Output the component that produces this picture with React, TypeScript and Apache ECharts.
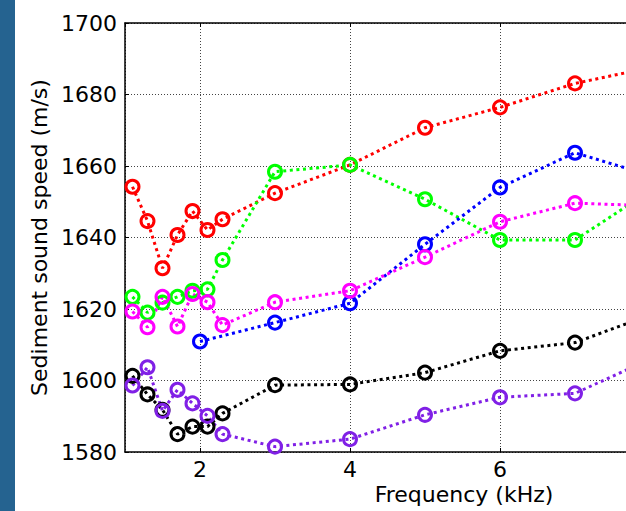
import React, { useEffect, useRef } from "react";
import * as echarts from "echarts";

const freqAll = [1.1, 1.3, 1.5, 1.7, 1.9, 2.1, 2.3, 3, 4, 5, 6, 7, 8];
const freqBlue = [2, 3, 4, 5, 6, 7, 8];

const redSpeed = [1654.2, 1644.6, 1631.4, 1640.7, 1647.4, 1642.1, 1645.1, 1652.4, 1660.3, 1670.7, 1676.4, 1683.1, 1687.5];
const greenSpeed = [1623.4, 1619.0, 1621.8, 1623.4, 1625.1, 1625.5, 1633.7, 1658.4, 1660.3, 1650.7, 1639.3, 1639.3, 1653.0];
const blueSpeed = [1610.9, 1616.2, 1621.6, 1638.1, 1654.0, 1663.7, 1657.4];
const magentaSpeed = [1619.3, 1614.9, 1623.4, 1615.1, 1624.2, 1621.9, 1615.5, 1621.9, 1625.1, 1634.5, 1644.4, 1649.6, 1648.9];
const blackSpeed = [1601.3, 1596.1, 1591.8, 1585.0, 1587.1, 1587.1, 1590.8, 1598.7, 1598.9, 1602.2, 1608.3, 1610.6, 1618.3];
const purpleSpeed = [1598.6, 1603.7, 1591.5, 1597.4, 1593.6, 1590.1, 1585.0, 1581.5, 1583.6, 1590.4, 1595.3, 1596.4, 1606.0];

const yTickMin = 1580;
const yTickMax = 1700;
const yTickStep = 20;

const FONT = "DejaVu Sans";

function mkSeries(name: string, xs: number[], ys: number[], color: string) {
  return {
    name,
    type: "line",
    data: xs.map((x, i) => [x, ys[i]]),
    symbol: "circle",
    symbolSize: 13,
    itemStyle: { color: "transparent", borderColor: color, borderWidth: 3 },
    lineStyle: { color, width: 3, type: [3, 3.6], cap: "butt" },
    clip: true,
  };
}

export default function App() {
  const ref = useRef<HTMLDivElement>(null);
  useEffect(() => {
    const chart = echarts.init(ref.current!, null, { renderer: "svg" });
    chart.setOption({
      animation: false,
      backgroundColor: "#fff",
      grid: { left: 125, top: 23, right: 0, bottom: 59, show: false },
      xAxis: [
        {
          type: "value",
          min: 1,
          max: 8,
          splitNumber: 3,
          position: "bottom",
          axisLine: { show: true, onZero: false, lineStyle: { color: "#000", width: 1.5 } },
          axisTick: { show: true, inside: true, length: 4, lineStyle: { color: "#000" } },
          axisLabel: {
            showMinLabel: false,
            showMaxLabel: false,
            color: "#000",
            fontSize: 22,
            fontFamily: FONT,
            margin: 6,
          },
          splitLine: { show: true, lineStyle: { color: "#444", width: 1, type: [1, 2] } },
        },
        {
          type: "value",
          min: 1,
          max: 8,
          splitNumber: 3,
          position: "top",
          axisLine: { show: true, onZero: false, lineStyle: { color: "#000", width: 1.5 } },
          axisTick: { show: true, inside: true, length: 4, lineStyle: { color: "#000" } },
          axisLabel: { show: false },
          splitLine: { show: false },
        },
      ],
      yAxis: {
        type: "value",
        min: yTickMin,
        max: yTickMax,
        interval: yTickStep,
        name: "Sediment sound speed (m/s)",
        nameLocation: "middle",
        nameGap: 70,
        nameTextStyle: { color: "#000", fontSize: 22, fontFamily: FONT },
        axisLine: { show: true, onZero: false, lineStyle: { color: "#000", width: 1.5 } },
        axisTick: { show: true, inside: true, length: 4, lineStyle: { color: "#000" } },
        axisLabel: {
          color: "#000",
          fontSize: 22,
          fontFamily: FONT,
          margin: 8,
          formatter: (v: number) => String(v),
        },
        splitLine: { show: true, lineStyle: { color: "#444", width: 1, type: [1, 2] } },
      },
      graphic: [
        { type: "rect", left: 0, top: 0, shape: { x: 0, y: 0, width: 15, height: 511 }, style: { fill: "#256390" } },
        {
          type: "text",
          x: 464,
          y: 494,
          style: {
            text: "Frequency (kHz)",
            fill: "#000",
            font: `22px "${FONT}"`,
            align: "center",
            verticalAlign: "middle",
          },
        },
      ],
      series: [
        mkSeries("red", freqAll, redSpeed, "#ff0000"),
        mkSeries("green", freqAll, greenSpeed, "#00ff00"),
        mkSeries("blue", freqBlue, blueSpeed, "#0000ff"),
        mkSeries("magenta", freqAll, magentaSpeed, "#ff00ff"),
        mkSeries("black", freqAll, blackSpeed, "#000000"),
        mkSeries("purple", freqAll, purpleSpeed, "#8020e6"),
      ],
    });
    return () => chart.dispose();
  }, []);
  return (
    <div style={{ position: "absolute", left: 0, top: 0, width: 626, height: 511, overflow: "hidden" }}>
      <div ref={ref} style={{ width: 650, height: 511 }} />
    </div>
  );
}
